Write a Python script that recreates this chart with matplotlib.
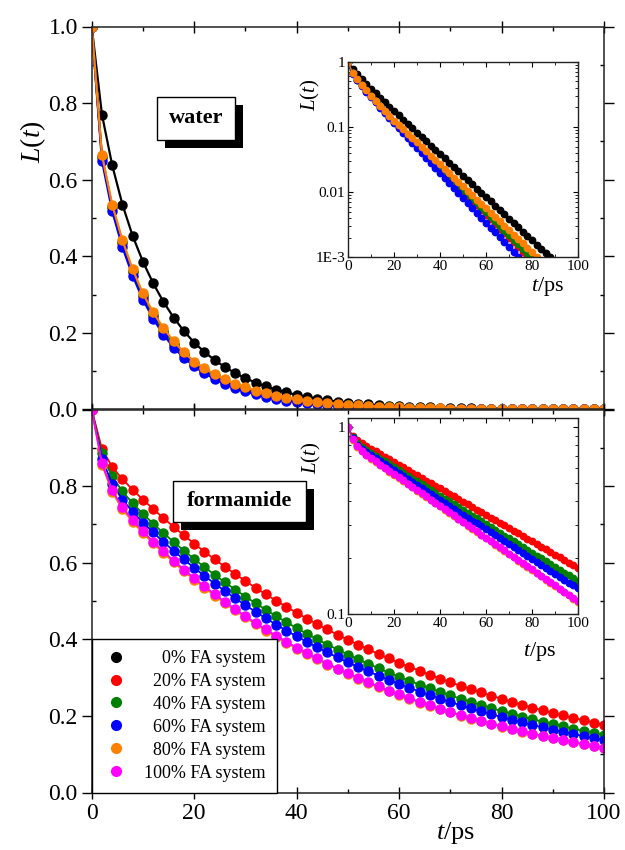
import numpy as np
import matplotlib
matplotlib.use("Agg")
import matplotlib.pyplot as plt
from matplotlib.lines import Line2D
from matplotlib.patches import Rectangle
from matplotlib.ticker import MultipleLocator, NullFormatter

plt.rcParams['font.family'] = ['Liberation Serif', 'DejaVu Serif']
plt.rcParams['mathtext.fontset'] = 'custom'
plt.rcParams['mathtext.rm'] = 'Liberation Serif'
plt.rcParams['mathtext.it'] = 'Liberation Serif:italic'

# time grid (ps), one point every 2 ps
t = np.arange(0, 101, 2)

# water L(t)
water_0 = [1.0, 0.770, 0.638, 0.535, 0.453, 0.386, 0.3295, 0.2812, 0.2400, 0.2048, 0.1748,
           0.1502, 0.1290, 0.1108, 0.09517, 0.08175, 0.07022, 0.06032, 0.05182, 0.04451, 0.03823,
           0.03284, 0.02821, 0.02423, 0.02082, 0.01788, 0.01536, 0.01319, 0.01133, 0.009735, 0.008362,
           0.007183, 0.006170, 0.005300, 0.004553, 0.003911, 0.003359, 0.002886, 0.002479, 0.002129, 0.001829,
           0.001571, 0.001350, 0.001159, 0.000996, 0.000855, 0.000735, 0.000631, 0.000542, 0.000466, 0.000400]
water_20 = [1.0, 0.660, 0.528, 0.434, 0.358, 0.295, 0.2445, 0.2032, 0.1692, 0.1414, 0.1190,
            0.10103, 0.08578, 0.07282, 0.06183, 0.05249, 0.04457, 0.03784, 0.03212, 0.02727, 0.02316,
            0.01966, 0.01669, 0.01417, 0.01203, 0.01021, 0.008673, 0.007363, 0.006251, 0.005307, 0.004506,
            0.003826, 0.003248, 0.002757, 0.002341, 0.001988, 0.001688, 0.001433, 0.001216, 0.001033, 0.000877,
            0.000744, 0.000632, 0.000537, 0.000456, 0.000387, 0.000328, 0.000279, 0.000237, 0.000201, 0.000171]
water_40 = [1.0, 0.660, 0.530, 0.437, 0.361, 0.298, 0.2475, 0.2062, 0.1720, 0.1440, 0.1210,
            0.10307, 0.08779, 0.07478, 0.06370, 0.05426, 0.04622, 0.03937, 0.03353, 0.02856, 0.02433,
            0.02072, 0.01765, 0.01504, 0.01281, 0.01091, 0.009293, 0.007916, 0.006743, 0.005744, 0.004892,
            0.004167, 0.003550, 0.003024, 0.002576, 0.002194, 0.001869, 0.001592, 0.001356, 0.001155, 0.000984,
            0.000838, 0.000714, 0.000608, 0.000518, 0.000441, 0.000376, 0.000320, 0.000273, 0.000232, 0.000198]
water_60 = [1.0, 0.650, 0.518, 0.424, 0.349, 0.287, 0.2370, 0.1958, 0.1618, 0.1352, 0.1130,
            0.09485, 0.07962, 0.06683, 0.05610, 0.04709, 0.03953, 0.03318, 0.02785, 0.02338, 0.01962,
            0.01647, 0.01383, 0.01161, 0.009742, 0.008178, 0.006864, 0.005762, 0.004837, 0.004060, 0.003408,
            0.002861, 0.002401, 0.002016, 0.001692, 0.001420, 0.001192, 0.001001, 0.000840, 0.000705, 0.000592,
            0.000497, 0.000417, 0.000350, 0.000294, 0.000247, 0.000207, 0.000174, 0.000146, 0.000122, 0.000103]
water_80 = [1.0, 0.665, 0.535, 0.442, 0.366, 0.303, 0.2535, 0.2125, 0.1782, 0.1494, 0.1253,
            0.10731, 0.09190, 0.07870, 0.06740, 0.05772, 0.04943, 0.04233, 0.03625, 0.03105, 0.02659,
            0.02277, 0.01950, 0.01670, 0.01430, 0.01225, 0.01049, 0.008983, 0.007693, 0.006588, 0.005642,
            0.004832, 0.004138, 0.003544, 0.003035, 0.002599, 0.002226, 0.001906, 0.001632, 0.001398, 0.001197,
            0.001025, 0.000878, 0.000752, 0.000644, 0.000551, 0.000472, 0.000404, 0.000346, 0.000297, 0.000254]

# formamide L(t)
fa_20 = [1.0, 0.897, 0.850, 0.818, 0.7906, 0.7648, 0.7403, 0.7165, 0.6936, 0.6714, 0.6499,
         0.6290, 0.6089, 0.5894, 0.5705, 0.5522, 0.5345, 0.5174, 0.5008, 0.4848, 0.4692,
         0.4542, 0.4397, 0.4256, 0.4119, 0.3987, 0.3860, 0.3736, 0.3616, 0.3500, 0.3388,
         0.3280, 0.3175, 0.3073, 0.2974, 0.2879, 0.2787, 0.2698, 0.2611, 0.2528, 0.2447,
         0.2368, 0.2292, 0.2219, 0.2148, 0.2079, 0.2012, 0.1948, 0.1885, 0.1825, 0.1767]
fa_40 = [1.0, 0.8855, 0.8254, 0.7861, 0.7551, 0.7276, 0.7019, 0.6774, 0.6540, 0.6315, 0.6097,
         0.5887, 0.5684, 0.5488, 0.5299, 0.5116, 0.4940, 0.4769, 0.4605, 0.4446, 0.4293,
         0.4145, 0.4002, 0.3864, 0.3731, 0.3602, 0.3478, 0.3358, 0.3242, 0.3130, 0.3022,
         0.2918, 0.2818, 0.2720, 0.2627, 0.2536, 0.2449, 0.2364, 0.2283, 0.2204, 0.2128,
         0.2055, 0.1984, 0.1915, 0.1849, 0.1786, 0.1724, 0.1665, 0.1607, 0.1552, 0.1498]
fa_60 = [1.0, 0.8713, 0.8059, 0.7646, 0.7326, 0.7048, 0.6790, 0.6543, 0.6310, 0.6084, 0.5867,
         0.5657, 0.5456, 0.5261, 0.5073, 0.4892, 0.4717, 0.4548, 0.4386, 0.4229, 0.4078,
         0.3933, 0.3792, 0.3657, 0.3526, 0.3400, 0.3279, 0.3162, 0.3049, 0.2940, 0.2835,
         0.2734, 0.2636, 0.2542, 0.2451, 0.2364, 0.2279, 0.2198, 0.2119, 0.2044, 0.1971,
         0.1900, 0.1833, 0.1767, 0.1704, 0.1643, 0.1584, 0.1528, 0.1473, 0.1421, 0.1370]
fa_80 = [1.0, 0.8560, 0.7842, 0.7398, 0.7062, 0.6771, 0.6504, 0.6250, 0.6010, 0.5780, 0.5558,
         0.5344, 0.5139, 0.4942, 0.4752, 0.4570, 0.4395, 0.4226, 0.4064, 0.3908, 0.3758,
         0.3614, 0.3475, 0.3341, 0.3213, 0.3090, 0.2971, 0.2857, 0.2748, 0.2642, 0.2541,
         0.2443, 0.2349, 0.2259, 0.2173, 0.2089, 0.2009, 0.1932, 0.1858, 0.1786, 0.1718,
         0.1652, 0.1589, 0.1528, 0.1469, 0.1413, 0.1358, 0.1306, 0.1256, 0.1208, 0.1162]
fa_100 = [1.0, 0.8595, 0.7890, 0.7449, 0.7111, 0.6820, 0.6551, 0.6296, 0.6054, 0.5822, 0.5598,
          0.5384, 0.5177, 0.4978, 0.4787, 0.4603, 0.4427, 0.4257, 0.4093, 0.3936, 0.3785,
          0.3640, 0.3500, 0.3366, 0.3237, 0.3112, 0.2993, 0.2878, 0.2768, 0.2661, 0.2559,
          0.2461, 0.2367, 0.2276, 0.2188, 0.2104, 0.2024, 0.1946, 0.1871, 0.1799, 0.1730,
          0.1664, 0.1600, 0.1539, 0.1480, 0.1423, 0.1368, 0.1316, 0.1265, 0.1217, 0.1170]

labels = ['0% FA system', '20% FA system', '40% FA system',
          '60% FA system', '80% FA system', '100% FA system']
colors = ['#000000', '#ff0000', '#008000', '#0000ff', '#ff8000', '#ff00ff']

water = [(water_0, colors[0]), (water_20, colors[1]), (water_40, colors[2]),
         (water_60, colors[3]), (water_80, colors[4])]
forma = [(fa_20, colors[1]), (fa_40, colors[2]), (fa_60, colors[3]),
         (fa_80, colors[4]), (fa_100, colors[5])]

W, H = 625, 850
fig = plt.figure(figsize=(W / 100, H / 100), dpi=100)


def rect(left, top, right, bottom):
    # pixel box -> figure fraction
    return [left / W, 1 - bottom / H, (right - left) / W, (bottom - top) / H]


ax_w = fig.add_axes(rect(91.7, 26.5, 604, 409.5))
ax_f = fig.add_axes(rect(91.7, 409.5, 604, 792.5))
in_w = fig.add_axes(rect(348, 61.7, 578, 257.3))
in_f = fig.add_axes(rect(348, 418.3, 578, 614))


def style_main(ax):
    ax.set_xlim(0, 100)
    ax.set_ylim(0, 1)
    ax.xaxis.set_major_locator(MultipleLocator(20))
    ax.xaxis.set_minor_locator(MultipleLocator(10))
    ax.yaxis.set_major_locator(MultipleLocator(0.2))
    ax.yaxis.set_minor_locator(MultipleLocator(0.1))
    ax.tick_params(which='both', top=True, right=True, labelsize=17, width=1.0, pad=3)
    ax.tick_params(axis='y', which='major', direction='out', length=7)
    ax.tick_params(axis='y', which='minor', direction='in', length=3)
    ax.tick_params(axis='x', which='major', direction='inout', length=9)
    ax.tick_params(axis='x', which='minor', direction='in', length=3)
    for s in ax.spines.values():
        s.set_linewidth(1.1)
        s.set_color('#222222')


def style_inset(ax):
    ax.set_xlim(0, 100)
    ax.set_yscale('log')
    ax.xaxis.set_major_locator(MultipleLocator(20))
    ax.xaxis.set_minor_locator(MultipleLocator(10))
    ax.yaxis.set_minor_formatter(NullFormatter())
    ax.tick_params(which='both', direction='in', top=True, right=True, labelsize=11, pad=2)
    ax.tick_params(which='major', length=3.5, width=0.8)
    ax.tick_params(which='minor', length=2, width=0.6)
    for s in ax.spines.values():
        s.set_linewidth(1.0)
        s.set_color('#222222')


style_main(ax_w)
style_main(ax_f)
ax_w.tick_params(labelbottom=False)
ax_w.set_yticks([0, 0.2, 0.4, 0.6, 0.8, 1.0], ['0.0', '0.2', '0.4', '0.6', '0.8', '1.0'])
ax_f.set_yticks([0, 0.2, 0.4, 0.6, 0.8, 1.0], ['0.0', '0.2', '0.4', '0.6', '0.8', ''])

# main panels
for y, c in water:
    ax_w.plot(t, y, ls='none', marker='o', ms=6.5, color=c, mec=c)
    ax_w.plot(t, y, '-', lw=1.6, color=c)
for y, c in forma:
    ax_f.plot(t, y, ls='none', marker='o', ms=6.5, color=c, mec=c)
    ax_f.plot(t, y, '-', lw=1.3, color=c)

# insets
for y, c in water:
    in_w.plot(t, y, ls='none', marker='o', ms=4.6, color=c, mec=c)
    in_w.plot(t, y, '-', lw=0.9, color=c)
for y, c in forma:
    in_f.plot(t, y, ls='none', marker='o', ms=4.6, color=c, mec=c)
    in_f.plot(t, y, '-', lw=0.9, color=c)

style_inset(in_w)
style_inset(in_f)
in_w.set_ylim(1e-3, 1)
in_w.set_yticks([1e-3, 1e-2, 1e-1, 1], ['1E-3', '0.01', '0.1', '1'])
in_f.set_ylim(0.1, 1.113)
in_f.set_yticks([0.1, 1], ['0.1', '1'])
in_w.yaxis.set_minor_formatter(NullFormatter())
in_f.yaxis.set_minor_formatter(NullFormatter())

# axis labels
ax_w.set_ylabel('$L$($t$)', fontsize=20)
ax_w.yaxis.set_label_coords(-0.085, 0.70)
ax_f.set_xlabel('$t$/ps', fontsize=19, labelpad=0)
ax_f.xaxis.set_label_coords(0.71, -0.072)
for ax, lx, ly, xx, xy in [(in_w, -0.115, 0.83, 0.87, -0.09), (in_f, -0.108, 0.80, 0.835, -0.133)]:
    ax.set_ylabel('$L$($t$)', fontsize=15)
    ax.yaxis.set_label_coords(lx, ly)
    ax.set_xlabel('$t$/ps', fontsize=16)
    ax.xaxis.set_label_coords(xx, xy)


# boxed labels with drop shadow
def shadow_box(text, left, top, right, bottom, off=8):
    fig.patches.append(Rectangle(((left + off) / W, 1 - (bottom + off) / H),
                                 (right - left) / W, (bottom - top) / H,
                                 transform=fig.transFigure, facecolor='black',
                                 edgecolor='none', zorder=5))
    fig.patches.append(Rectangle((left / W, 1 - bottom / H),
                                 (right - left) / W, (bottom - top) / H,
                                 transform=fig.transFigure, facecolor='white',
                                 edgecolor='black', lw=1.0, zorder=6))
    fig.text((left + right) / 2 / W, 1 - (top + bottom) / 2 / H, text,
             ha='center', va='center', fontsize=16, fontweight='bold', zorder=7)


shadow_box('water', 156.7, 96.7, 235, 140)
shadow_box('formamide', 172.7, 480.7, 305.7, 522.3)

# legend with right-aligned labels
handles = [Line2D([], [], ls='none', marker='o', ms=7, color=c, mec=c) for c in colors]
leg = ax_f.legend(handles, labels, loc='lower left', borderaxespad=0, fancybox=False,
                  edgecolor='black', framealpha=1, fontsize=13, handlelength=1.5,
                  handletextpad=0.8, labelspacing=0.33, borderpad=0.6)
leg.get_frame().set_linewidth(1.0)
fig.canvas.draw()
r = fig.canvas.get_renderer()
widths = [tx.get_window_extent(r).width for tx in leg.get_texts()]
wmax = max(widths)
for tx, w in zip(leg.get_texts(), widths):
    tx.set_position((wmax - w, 0))

fig.savefig('out.png', dpi=100)
